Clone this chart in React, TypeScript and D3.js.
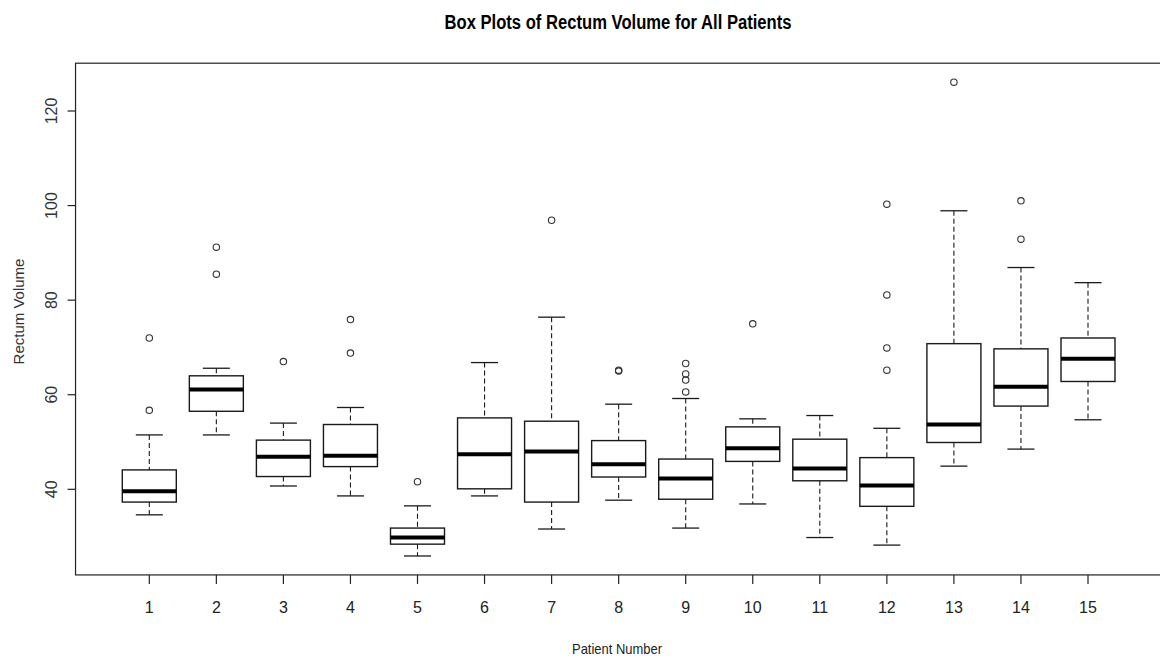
import React from "react";
import * as d3 from "d3";

const patients = [1, 2, 3, 4, 5, 6, 7, 8, 9, 10, 11, 12, 13, 14, 15];
const whiskerLow = [34.6, 51.5, 40.7, 38.6, 25.9, 38.6, 31.6, 37.7, 31.8, 36.9, 29.8, 28.2, 44.9, 48.5, 54.7];
const q1 = [37.3, 56.5, 42.7, 44.8, 28.4, 40.1, 37.3, 42.6, 37.9, 45.9, 41.8, 36.4, 49.9, 57.6, 62.8];
const medians = [39.6, 61.1, 46.9, 47.1, 29.8, 47.4, 48.0, 45.3, 42.3, 48.7, 44.4, 40.8, 53.7, 61.7, 67.6];
const q3 = [44.1, 64.0, 50.4, 53.7, 31.8, 55.1, 54.4, 50.3, 46.4, 53.2, 50.6, 46.7, 70.8, 69.7, 72.0];
const whiskerHigh = [51.5, 65.6, 54.0, 57.3, 36.5, 66.8, 76.4, 58.0, 59.2, 54.9, 55.6, 52.9, 98.9, 86.9, 83.7];
const outliers: number[][] = [
  [56.7, 72.0],
  [85.5, 91.2],
  [67.0],
  [68.8, 75.9],
  [41.6],
  [],
  [96.9],
  [65.0, 65.2],
  [60.6, 63.1, 64.4, 66.6],
  [75.0],
  [],
  [65.2, 69.9, 81.1, 100.3],
  [126.1],
  [92.9, 101.0],
  [],
];
const yTicks = [40, 60, 80, 100, 120];

const title = "Box Plots of Rectum Volume for All Patients";
const xTitle = "Patient Number";
const yTitle = "Rectum Volume";

export default function App() {
  const W = 1160;
  const H = 658;
  const x = d3.scaleLinear().domain([1, 15]).range([149.3, 1088]);
  const y = d3.scaleLinear().domain([40, 120]).range([489.3, 111]);

  const allVals = [...whiskerLow, ...whiskerHigh, ...outliers.flat()];
  const lo = d3.min(allVals) as number;
  const hi = d3.max(allVals) as number;
  const pad = (hi - lo) * 0.04;
  const frameTop = y(hi + pad);
  const frameBottom = y(lo - pad);
  const frameLeft = x(0.5 - 0.6);
  const frameRight = x(15.5 + 0.6);

  const halfBox = 27;
  const halfCap = 13.5;
  const ink = "#1a1a1a";
  const font = "'Liberation Sans', Arial, sans-serif";

  return (
    <svg
      width={W}
      height={H}
      style={{ position: "absolute", left: 0, top: 0, background: "#fff" }}
    >
      <rect x={0} y={0} width={W} height={H} fill="#fff" />
      <text
        x={618}
        y={29}
        textAnchor="middle"
        fontFamily="'Liberation Sans Narrow', 'Liberation Sans', Arial, sans-serif"
        fontWeight="bold"
        fontSize={20}
        textLength={347}
        lengthAdjust="spacingAndGlyphs"
        fill="#000"
      >
        {title}
      </text>

      {/* frame */}
      <rect
        x={frameLeft}
        y={frameTop}
        width={frameRight - frameLeft}
        height={frameBottom - frameTop}
        fill="none"
        stroke="#222"
        strokeWidth={1.2}
      />

      {/* y axis ticks */}
      {yTicks.map((t) => (
        <g key={t}>
          <line x1={frameLeft - 8} x2={frameLeft} y1={y(t)} y2={y(t)} stroke="#222" strokeWidth={1.2} />
          <text
            transform={`translate(57,${y(t)}) rotate(-90)`}
            textAnchor="middle"
            fontFamily={font}
            fontSize={16}
            fill="#333"
          >
            {t}
          </text>
        </g>
      ))}

      {/* x axis ticks */}
      {patients.map((p) => (
        <g key={p}>
          <line x1={x(p)} x2={x(p)} y1={frameBottom} y2={frameBottom + 9} stroke="#222" strokeWidth={1.2} />
          <text x={x(p)} y={612.5} textAnchor="middle" fontFamily={font} fontSize={16} fill="#222">
            {p}
          </text>
        </g>
      ))}

      <text
        x={617}
        y={653.5}
        textAnchor="middle"
        fontFamily={font}
        fontSize={15}
        textLength={90}
        lengthAdjust="spacingAndGlyphs"
        fill="#222"
      >
        {xTitle}
      </text>
      <text
        transform={`translate(23.5,311.5) rotate(-90)`}
        textAnchor="middle"
        fontFamily={font}
        fontSize={15}
        fill="#333"
      >
        {yTitle}
      </text>

      {/* boxes */}
      {patients.map((p, i) => {
        const cx = x(p);
        return (
          <g key={p}>
            <line x1={cx} x2={cx} y1={y(whiskerHigh[i])} y2={y(q3[i])} stroke={ink} strokeWidth={1.1} strokeDasharray="5,3" />
            <line x1={cx} x2={cx} y1={y(q1[i])} y2={y(whiskerLow[i])} stroke={ink} strokeWidth={1.1} strokeDasharray="5,3" />
            <line x1={cx - halfCap} x2={cx + halfCap} y1={y(whiskerHigh[i])} y2={y(whiskerHigh[i])} stroke={ink} strokeWidth={1.3} />
            <line x1={cx - halfCap} x2={cx + halfCap} y1={y(whiskerLow[i])} y2={y(whiskerLow[i])} stroke={ink} strokeWidth={1.3} />
            <rect
              x={cx - halfBox}
              y={y(q3[i])}
              width={halfBox * 2}
              height={y(q1[i]) - y(q3[i])}
              fill="#fff"
              stroke={ink}
              strokeWidth={1.4}
            />
            <line x1={cx - halfBox} x2={cx + halfBox} y1={y(medians[i])} y2={y(medians[i])} stroke="#000" strokeWidth={4} />
            {outliers[i].map((o, j) => (
              <circle key={j} cx={cx} cy={y(o)} r={3.2} fill="none" stroke="#333" strokeWidth={1.1} />
            ))}
          </g>
        );
      })}
    </svg>
  );
}
